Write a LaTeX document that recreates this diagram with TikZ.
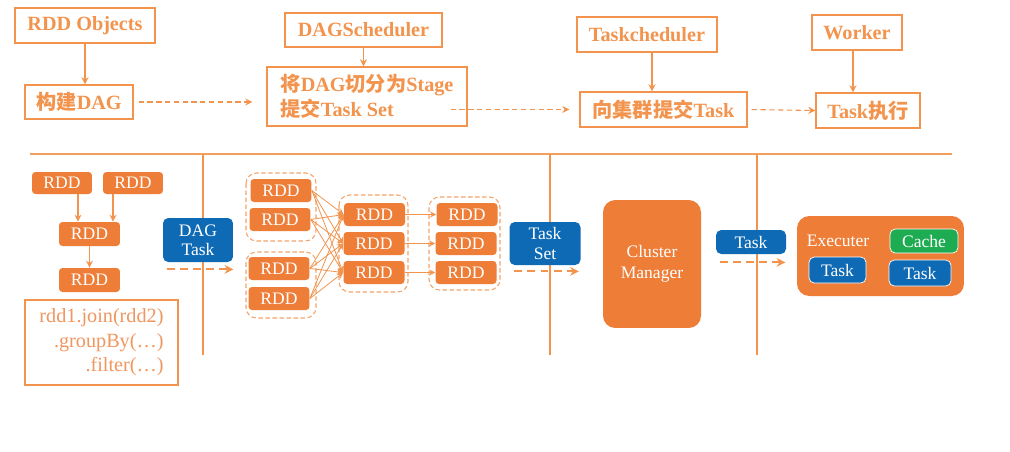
\documentclass[tikz,border=0pt]{standalone}
\usepackage{fontspec}
\setmainfont{Liberation Serif}
\newfontfamily\cjk{Noto Sans CJK SC}
\usetikzlibrary{arrows.meta, positioning}

\definecolor{rddorange}{RGB}{238,125,55}
\definecolor{lineorange}{RGB}{242,148,78}
\definecolor{codeorange}{RGB}{240,150,95}
\definecolor{taskblue}{RGB}{14,106,180}
\definecolor{cachegreen}{RGB}{30,172,82}

\tikzset{
  labelbox/.style={draw=lineorange, line width=0.8pt, text=lineorange, inner sep=0pt, font=\fontsize{11.5}{14}\selectfont\bfseries},
  rdd/.style={fill=rddorange, text=white, rounded corners=2pt, minimum width=1.22cm, minimum height=0.46cm, inner sep=0pt, font=\fontsize{10}{12}\selectfont},
  task/.style={fill=taskblue, text=white, rounded corners=3pt, inner sep=0pt, align=center, font=\fontsize{10}{12}\selectfont},
  bigbox/.style={fill=rddorange, text=white, rounded corners=7pt, inner sep=0pt, align=center, font=\fontsize{10}{12}\selectfont},
  stage/.style={draw=lineorange!85, line width=0.6pt, dash pattern=on 2.5pt off 1.5pt, rounded corners=6pt},
  flow/.style={lineorange, line width=0.7pt, -{Stealth[length=4pt,width=4pt]}},
  thinflow/.style={lineorange, line width=0.45pt, -{Stealth[length=3.5pt,width=3.5pt]}},
  dflow/.style={lineorange, line width=0.6pt, dash pattern=on 3pt off 2pt, -{Stealth[length=4pt,width=4pt]}},
  bflow/.style={lineorange, line width=1.1pt, dash pattern=on 4.5pt off 3pt, -{Stealth[length=5pt,width=5pt]}},
  rule/.style={lineorange, line width=0.6pt},
}

\begin{document}
\begin{tikzpicture}[x=0.02cm, y=-0.02cm]
\useasboundingbox[fill=white] (0,0) rectangle (1010,451);

% top row
\node[labelbox, minimum width=2.8cm, minimum height=0.7cm] (obj) at (85,25.5) {RDD Objects};
\node[labelbox, minimum width=2.16cm, minimum height=0.68cm] (build) at (79,102) {{\cjk 构建}DAG};
\node[labelbox, minimum width=3.14cm, minimum height=0.68cm] (dagsch) at (363.5,30) {DAGScheduler};
\node[labelbox, minimum width=4cm, minimum height=1.18cm, align=left] (split) at (367,96.5) {{\cjk 将}DAG{\cjk 切分为}Stage\\{\cjk 提交}Task Set};
\node[labelbox, minimum width=2.8cm, minimum height=0.7cm] (tsch) at (647,34.5) {Taskcheduler};
\node[labelbox, minimum width=3.34cm, minimum height=0.7cm] (submit) at (663.5,109.5) {{\cjk 向集群提交}Task};
\node[labelbox, minimum width=1.8cm, minimum height=0.7cm] (worker) at (857,32.5) {Worker};
\node[labelbox, minimum width=2.08cm, minimum height=0.7cm] (exec) at (868,110.5) {Task{\cjk 执行}};

\draw[flow] (obj.south) -- (obj.south |- build.north);
\draw[flow] (dagsch.south) -- (dagsch.south |- split.north);
\draw[flow] ([xshift=0.1cm]tsch.south) -- ([xshift=0.1cm]tsch.south |- submit.north);
\draw[flow] ([xshift=-0.08cm]worker.south) -- ([xshift=-0.08cm]worker.south |- exec.north);
\draw[dflow, shorten <=0.1cm, shorten >=0.28cm] (build.east) -- (split.west |- build.east);
\draw[dflow, shorten <=-0.34cm, shorten >=0.2cm] (split.east |- submit.west) -- (submit.west);
\draw[dflow, shorten <=0.08cm] (submit.east) -- (exec.west);

% separators
\draw[lineorange!90, line width=1.1pt] (30,154) -- (952,154);
\foreach \x in {203,550,757}
  \draw[rule] (\x,154) -- (\x,355);

% rdd lineage
\node[rdd, minimum width=1.2cm, minimum height=0.44cm] (a1) at (62,183) {RDD};
\node[rdd, minimum width=1.2cm, minimum height=0.44cm] (a2) at (133,183) {RDD};
\node[rdd, minimum height=0.48cm] (a3) at (89.5,234) {RDD};
\node[rdd, minimum height=0.48cm] (a4) at (89.5,280) {RDD};
\draw[flow] ([xshift=0.32cm]a1.south) -- ([xshift=0.32cm]a1.south |- a3.north);
\draw[flow] ([xshift=-0.4cm]a2.south) -- ([xshift=-0.4cm]a2.south |- a3.north);
\draw[flow] (a3.south) -- (a4.north);
\node[draw=lineorange, line width=0.6pt, text=codeorange, minimum width=3.06cm, minimum height=1.7cm, align=right, inner sep=0pt, font=\fontsize{11.5}{14}\selectfont] (code) at (101.5,342.5) {rdd1.join(rdd2)\\.groupBy(\ldots)\\.filter(\ldots)};

\node[task, minimum width=1.4cm, minimum height=0.88cm] (dagtask) at (198,240) {DAG\\[-1pt]Task};
\draw[bflow] ([shift={(0.08cm,-0.14cm)}]dagtask.south west) -- ([shift={(0cm,-0.14cm)}]dagtask.south east);

% stages
\draw[stage] (246,173) rectangle (316,241);
\draw[stage] (246,252) rectangle (316,318);
\draw[stage] (339,195) rectangle (408,292);
\draw[stage] (429,197) rectangle (500,290);

\node[rdd] (b1) at (281,190.5) {RDD};
\node[rdd] (b2) at (280,219.5) {RDD};
\node[rdd] (b3) at (279,268.5) {RDD};
\node[rdd] (b4) at (279,298.5) {RDD};
\node[rdd] (c1) at (374.5,214.5) {RDD};
\node[rdd] (c2) at (374,243.5) {RDD};
\node[rdd] (c3) at (374,272.5) {RDD};
\node[rdd] (d1) at (467,214.5) {RDD};
\node[rdd] (d2) at (466,243.5) {RDD};
\node[rdd] (d3) at (466,272.5) {RDD};

\foreach \i in {1,...,4}
  \foreach \j in {1,2,3}
    \draw[thinflow] (b\i.east) -- (c\j.west);
\foreach \j in {1,2,3}
  \draw[thinflow] (c\j.east) -- (d\j.west);

\node[task, minimum width=1.42cm, minimum height=0.86cm] (taskset) at (545,243.5) {Task\\[-1pt]Set};
\draw[bflow] ([shift={(0.1cm,-0.12cm)}]taskset.south west) -- ([shift={(-0.04cm,-0.12cm)}]taskset.south east);

% cluster and worker side
\node[bigbox, minimum width=1.96cm, minimum height=2.56cm] (cluster) at (652,264) {Cluster\\Manager};
\node[task, minimum width=1.4cm, minimum height=0.48cm] (task) at (751,242) {Task};
\draw[bflow] ([shift={(0.08cm,-0.16cm)}]task.south west) -- ([shift={(-0.02cm,-0.16cm)}]task.south east);

\node[bigbox, minimum width=3.34cm, minimum height=1.6cm] (executer) at (880.5,256) {};
\node[text=white, inner sep=0pt, font=\fontsize{10}{12}\selectfont] (execlabel) at (838,241) {Executer};
\node[task, fill=cachegreen, draw=white, line width=0.4pt, minimum width=1.36cm, minimum height=0.48cm] (cache) at (924,241) {Cache};
\node[task, draw=white, line width=0.4pt, minimum width=1.14cm, minimum height=0.52cm] (task1) at (837.5,270) {Task};
\node[task, draw=white, line width=0.4pt, minimum width=1.24cm, minimum height=0.52cm] (task2) at (920,273) {Task};

\end{tikzpicture}
\end{document}
